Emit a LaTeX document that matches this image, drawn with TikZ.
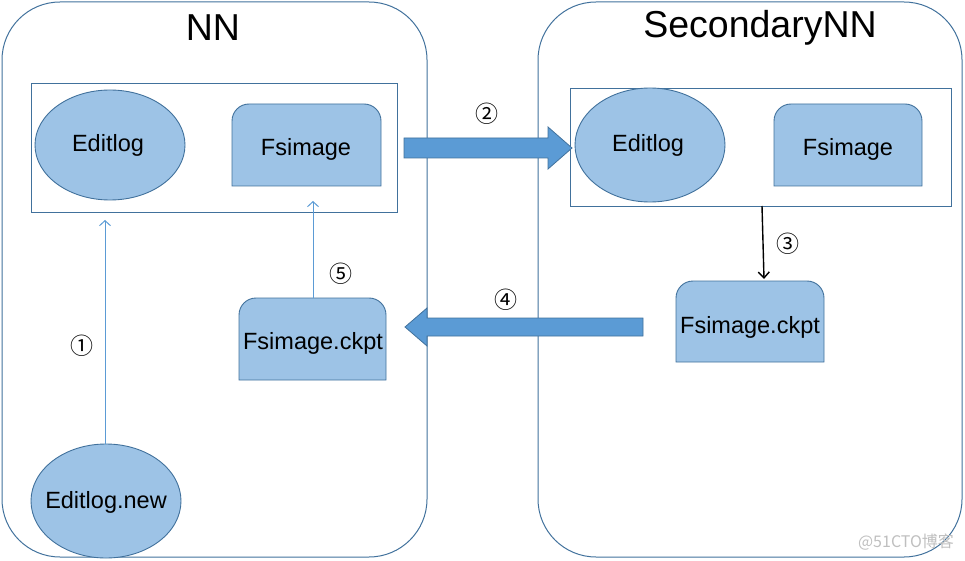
\documentclass[tikz,border=0pt]{standalone}
\usepackage{fontspec}
\setmainfont{Liberation Sans}
\newfontfamily\cjkfont{Noto Sans CJK SC}
\usetikzlibrary{shapes.geometric,arrows.meta}
\definecolor{lightfill}{HTML}{9DC3E6}
\definecolor{edge}{HTML}{41719C}
\definecolor{arrowfill}{HTML}{5B9BD5}
\newcommand{\topround}[4]{% x1,y1 (top-left), x2,y2 (bottom-right)
  \path[boxline] (#1,#4) -- ({#1},{#2+17}) .. controls ({#1},{#2+7.6}) and ({#1+7.6},{#2}) .. ({#1+17},{#2}) -- ({#3-17},{#2}) .. controls ({#3-7.6},{#2}) and ({#3},{#2+7.6}) .. ({#3},{#2+17}) -- (#3,#4) -- cycle;}
\begin{document}
\begin{tikzpicture}[x=1pt,y=-1pt,
  container/.style={draw=edge,line width=1pt,rounded corners=58pt},
  inner/.style={draw=edge,line width=0.9pt},
  oval/.style={ellipse,draw=edge,fill=lightfill,line width=0.9pt,inner sep=0pt},
  boxnode/.style={inner sep=0pt,font=\fontsize{23.5}{25}\selectfont},
  boxline/.style={draw=edge,fill=lightfill,line width=0.9pt},
  title/.style={font=\fontsize{37.5}{40}\selectfont},
  num/.style={font=\cjkfont\fontsize{23}{25}\selectfont},
  blockarrow/.style={draw=edge,fill=arrowfill,line width=0.8pt},
  thinarrow/.style={draw=arrowfill,line width=1pt,-{Straight Barb[length=5pt,width=11pt]}},
  blackarrow/.style={draw=black,line width=1.4pt,-{Straight Barb[length=6pt,width=11pt]}}
]
\useasboundingbox (0,0) rectangle (965,561);
% containers
\draw[container] (2,2) rectangle (427,557);
\draw[container] (538,2) rectangle (962,557);
\node[title] (tnn) at (213,28) {NN};
\node[title] (tsn) at (760,28) {SecondaryNN};
% inner frames
\draw[inner] (31,83) rectangle (397,212);
\draw[inner] (570,88) rectangle (951,206);
\coordinate (nnbottom) at (105,212);
\coordinate (snbottom) at (762,206);
% NN contents
\node[oval,minimum width=150pt,minimum height=110pt] (ed1) at (110,145) {};
\node[boxnode] (ed1t) at (108,145) {Editlog};
\topround{232}{104}{381}{186}
\node[boxnode] (fs1) at (306,149) {Fsimage};
% SN contents
\node[oval,minimum width=150pt,minimum height=114pt] (ed2) at (650,145) {};
\node[boxnode] (ed2t) at (648,145) {Editlog};
\topround{774}{104}{922}{186}
\node[boxnode] (fs2) at (848,149) {Fsimage};
% ckpt boxes
\topround{676}{281}{824}{362}
\node[boxnode] (ck2) at (750,327) {Fsimage.ckpt};
\topround{239}{298}{386}{380}
\node[boxnode] (ck1) at (313,343) {Fsimage.ckpt};
\coordinate (ck1top) at (313,298);
\coordinate (ck1tip) at (313,201);
\coordinate (ck2top) at (764,279);
% Editlog.new
\node[oval,minimum width=150pt,minimum height=114pt] (edn) at (106,501) {};
\node[boxnode] (ednt) at (106,502) {Editlog.new};
\coordinate (edntop) at (105,444);
\coordinate (ed1tip) at (105,220);
% arrows
\draw[thinarrow] (edntop) -- (ed1tip);
\draw[thinarrow] (ck1top) -- (ck1tip);
\draw[blackarrow] (snbottom) -- (ck2top);
\draw[blockarrow] (404,138) -- (548,138) -- (548,127) -- (572,148) -- (548,169) -- (548,158) -- (404,158) -- cycle;
\draw[blockarrow] (643,318) -- (427,318) -- (427,308) -- (405,327) -- (427,346) -- (427,336) -- (643,336) -- cycle;
% numbers
\node[num] (n1) at (82,346) {①};
\node[num] (n2) at (487,114) {②};
\node[num] (n3) at (788,244) {③};
\node[num] (n4) at (506,300) {④};
\node[num] (n5) at (341,274) {⑤};
% watermark
\node[font=\cjkfont\fontsize{16}{18}\selectfont,text=black!25] (wm) at (906,542) {@51CTO博客};
\end{tikzpicture}
\end{document}
